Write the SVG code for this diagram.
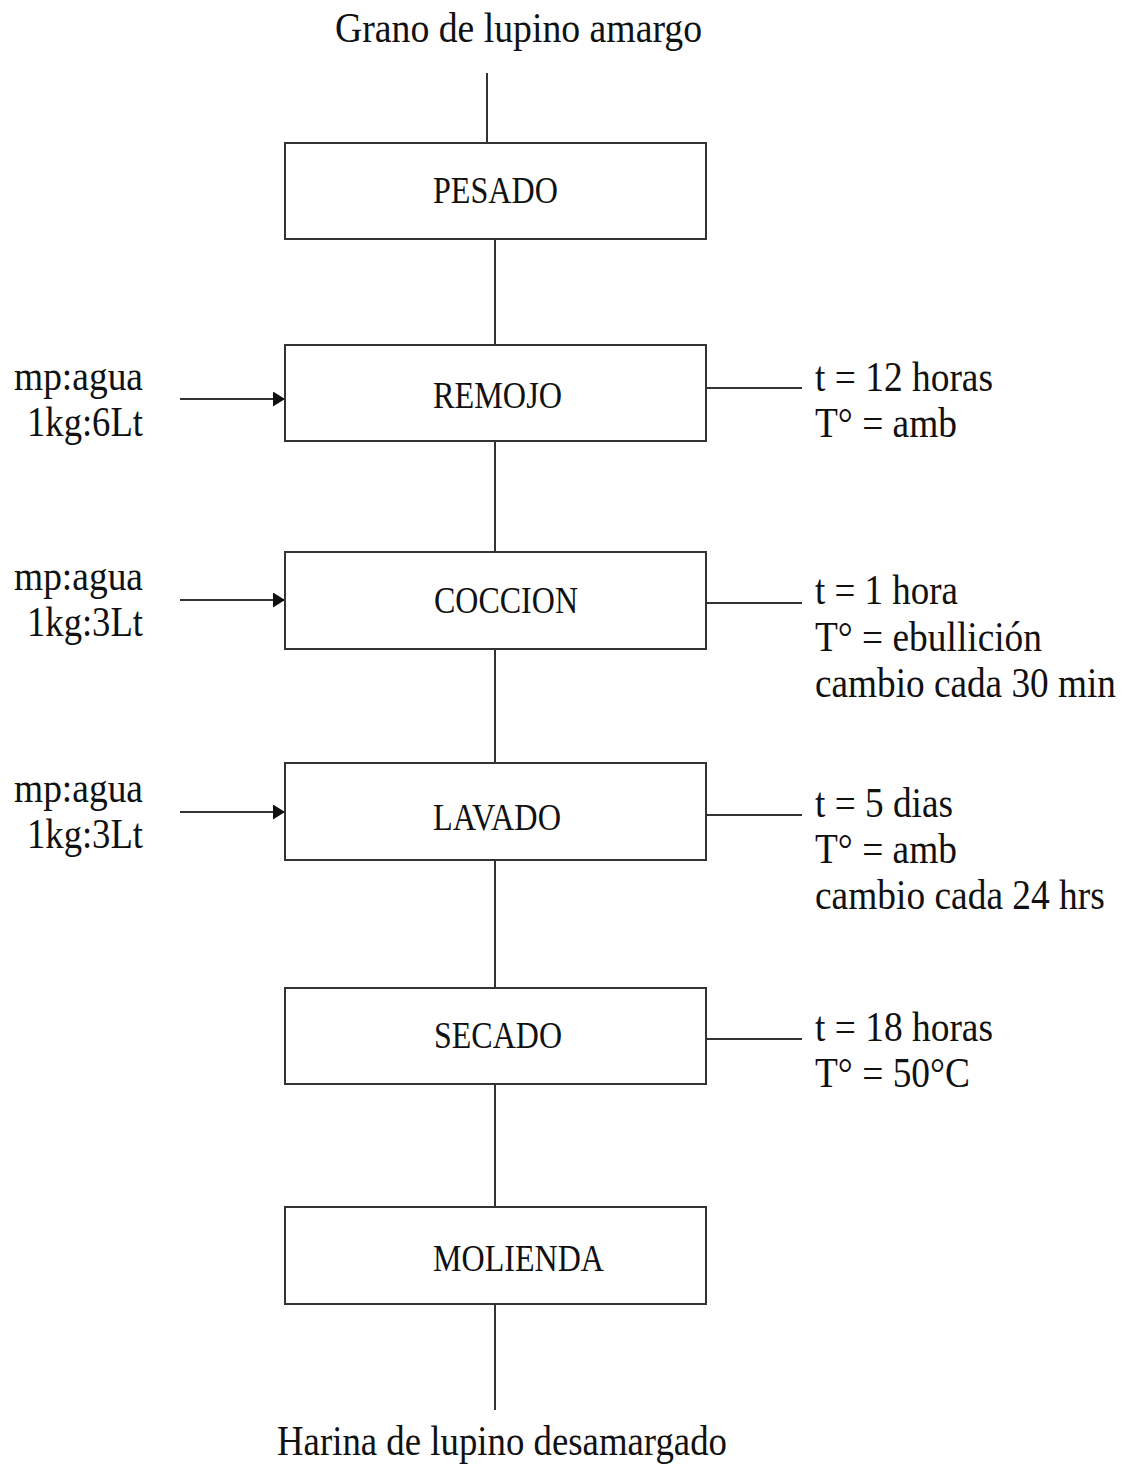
<svg xmlns="http://www.w3.org/2000/svg" width="1125" height="1473" viewBox="0 0 1125 1473">
<style>
.box{fill:#fff;stroke:#333;stroke-width:2}
.ln{stroke:#333;stroke-width:2;fill:none}
.t{font-family:"Liberation Serif","Times New Roman","DejaVu Serif",serif;fill:#111}
.lbl{font-size:37px}
.big{font-size:42px}
</style>
<defs>
<marker id="ah" markerWidth="13" markerHeight="15" refX="12" refY="7.5" orient="auto" markerUnits="userSpaceOnUse">
<path d="M0,0 L12,7.5 L0,15 Z" fill="#111"/>
</marker>
</defs>
<rect width="1125" height="1473" fill="#fff"/>
<g id="connectors">
<line class="ln" x1="487" y1="73" x2="487" y2="143"/>
<line class="ln" x1="495" y1="239" x2="495" y2="345"/>
<line class="ln" x1="495" y1="441" x2="495" y2="552"/>
<line class="ln" x1="495" y1="649" x2="495" y2="763"/>
<line class="ln" x1="495" y1="860" x2="495" y2="988"/>
<line class="ln" x1="495" y1="1084" x2="495" y2="1207"/>
<line class="ln" x1="495" y1="1304" x2="495" y2="1410"/>
<line class="ln" x1="180" y1="399" x2="285" y2="399" marker-end="url(#ah)"/>
<line class="ln" x1="180" y1="600" x2="285" y2="600" marker-end="url(#ah)"/>
<line class="ln" x1="180" y1="812" x2="285" y2="812" marker-end="url(#ah)"/>
<line class="ln" x1="706" y1="388" x2="802" y2="388"/>
<line class="ln" x1="706" y1="603" x2="802" y2="603"/>
<line class="ln" x1="706" y1="815" x2="802" y2="815"/>
<line class="ln" x1="706" y1="1039" x2="802" y2="1039"/>
</g>
<g id="input">
<text class="t big" x="335" y="42" textLength="367" lengthAdjust="spacingAndGlyphs">Grano de lupino amargo</text>
</g>
<g id="pesado">
<rect class="box" x="285" y="143" width="421" height="96"/>
<text class="t lbl" x="433" y="203" textLength="125" lengthAdjust="spacingAndGlyphs">PESADO</text>
</g>
<g id="remojo">
<rect class="box" x="285" y="345" width="421" height="96"/>
<text class="t lbl" x="433" y="408" textLength="129" lengthAdjust="spacingAndGlyphs">REMOJO</text>
</g>
<g id="coccion">
<rect class="box" x="285" y="552" width="421" height="97"/>
<text class="t lbl" x="434" y="613" textLength="144" lengthAdjust="spacingAndGlyphs">COCCION</text>
</g>
<g id="lavado">
<rect class="box" x="285" y="763" width="421" height="97"/>
<text class="t lbl" x="433" y="830" textLength="128" lengthAdjust="spacingAndGlyphs">LAVADO</text>
</g>
<g id="secado">
<rect class="box" x="285" y="988" width="421" height="96"/>
<text class="t lbl" x="434" y="1048" textLength="128" lengthAdjust="spacingAndGlyphs">SECADO</text>
</g>
<g id="molienda">
<rect class="box" x="285" y="1207" width="421" height="97"/>
<text class="t lbl" x="433" y="1271" textLength="171" lengthAdjust="spacingAndGlyphs">MOLIENDA</text>
</g>
<g id="output">
<text class="t big" x="277" y="1455" textLength="450" lengthAdjust="spacingAndGlyphs">Harina de lupino desamargado</text>
</g>
<g id="left-labels">
<text class="t big" x="14" y="390" textLength="129" lengthAdjust="spacingAndGlyphs">mp:agua</text>
<text class="t big" x="27" y="436" textLength="116" lengthAdjust="spacingAndGlyphs">1kg:6Lt</text>
<text class="t big" x="14" y="590" textLength="129" lengthAdjust="spacingAndGlyphs">mp:agua</text>
<text class="t big" x="27" y="636" textLength="116" lengthAdjust="spacingAndGlyphs">1kg:3Lt</text>
<text class="t big" x="14" y="802" textLength="129" lengthAdjust="spacingAndGlyphs">mp:agua</text>
<text class="t big" x="27" y="848" textLength="116" lengthAdjust="spacingAndGlyphs">1kg:3Lt</text>
</g>
<g id="right-labels">
<text class="t big" x="815" y="391" textLength="178" lengthAdjust="spacingAndGlyphs">t = 12 horas</text>
<text class="t big" x="815" y="437" textLength="142" lengthAdjust="spacingAndGlyphs">T° = amb</text>
<text class="t big" x="815" y="604" textLength="143" lengthAdjust="spacingAndGlyphs">t = 1 hora</text>
<text class="t big" x="815" y="651" textLength="227" lengthAdjust="spacingAndGlyphs">T° = ebullición</text>
<text class="t big" transform="translate(815,697) scale(0.887,1)" x="0" y="0">cambio cada 30 min</text>
<text class="t big" x="815" y="817" textLength="138" lengthAdjust="spacingAndGlyphs">t = 5 dias</text>
<text class="t big" x="815" y="863" textLength="142" lengthAdjust="spacingAndGlyphs">T° = amb</text>
<text class="t big" transform="translate(815,909) scale(0.891,1)" x="0" y="0">cambio cada 24 hrs</text>
<text class="t big" x="815" y="1041" textLength="178" lengthAdjust="spacingAndGlyphs">t = 18 horas</text>
<text class="t big" x="815" y="1087" textLength="155" lengthAdjust="spacingAndGlyphs">T° = 50°C</text>
</g>
</svg>
